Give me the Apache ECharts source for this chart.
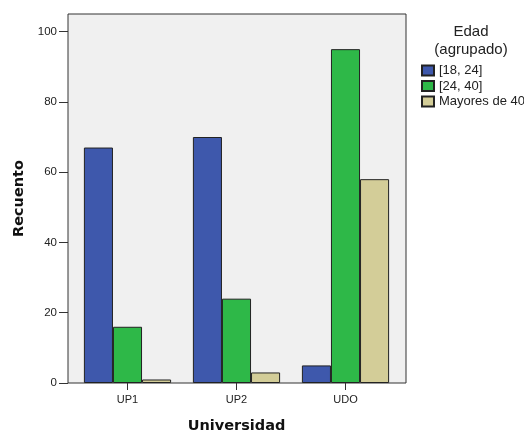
<!DOCTYPE html>
<html><head><meta charset="utf-8">
<script src="https://cdn.jsdelivr.net/npm/echarts@6/dist/echarts.min.js"></script>
<style>html,body{margin:0;padding:0;background:#fff}#c{width:524px;height:433px}</style>
</head><body><div id="c"></div>
<script>
const categories = ['UP1', 'UP2', 'UDO'];
const seriesNames = ['[18, 24]', '[24, 40]', 'Mayores de 40'];
const age18to24 = [67, 70, 5];
const age24to40 = [16, 24, 95];
const ageOver40 = [1, 3, 58];
const yTicks = [0, 20, 40, 60, 80, 100];
const colors = ['#3E58AC', '#2EB848', '#D3CD98'];

const font = 'Liberation Sans, Arial, sans-serif';
const boldFont = 'DejaVu Sans, sans-serif';
const chart = echarts.init(document.getElementById('c'));
const data = [age18to24, age24to40, ageOver40];
chart.setOption({
  animation: false,
  textStyle: { fontFamily: font },
  title: {
    text: 'Edad\n(agrupado)', left: 471, top: 23, textAlign: 'center', padding: 0,
    textStyle: { fontFamily: font, fontSize: 15, fontWeight: 'normal', color: '#222', lineHeight: 18 }
  },
  legend: {
    orient: 'vertical', left: 421, top: 64, padding: 0, itemWidth: 12, itemHeight: 10, itemGap: 2.5,
    icon: 'rect', data: seriesNames,
    textStyle: { fontFamily: font, fontSize: 13, color: '#222', lineHeight: 13 }
  },
  grid: [
    { left: 73, right: 124, top: 14, bottom: 50, outerBoundsMode: 'none' },
    { left: 68, right: 118, top: 14, bottom: 50, outerBoundsMode: 'none', show: true, backgroundColor: '#F0F0F0', borderColor: '#333', borderWidth: 1, z: 0 }
  ],
  xAxis: [
    {
      type: 'category', gridIndex: 0, data: categories,
      axisLine: { show: false },
      axisTick: { show: true, alignWithLabel: true, length: 7, lineStyle: { color: '#333' } },
      axisLabel: { fontFamily: font, fontSize: 11, color: '#222', margin: 11 },
      name: 'Universidad', nameLocation: 'middle', nameGap: 36,
      nameTextStyle: { fontFamily: boldFont, fontSize: 14.5, fontWeight: 'bold', color: '#111' }
    },
    { type: 'category', gridIndex: 1, show: false, data: categories }
  ],
  yAxis: [
    {
      type: 'value', gridIndex: 0, min: 0, max: 105, offset: 5,
      axisLine: { show: false },
      splitLine: { show: false },
      axisTick: { show: true, length: 9, customValues: yTicks, lineStyle: { color: '#333' } },
      axisLabel: { fontFamily: font, fontSize: 11.5, color: '#222', margin: 11, customValues: yTicks },
      name: 'Recuento', nameLocation: 'middle', nameGap: 40.5,
      nameTextStyle: { fontFamily: boldFont, fontSize: 14.5, fontWeight: 'bold', color: '#111' }
    },
    { type: 'value', gridIndex: 1, show: false, min: 0, max: 105 }
  ],
  series: seriesNames.map((n, i) => ({
    name: n, type: 'bar', xAxisIndex: 0, yAxisIndex: 0, data: data[i],
    barGap: 0, barCategoryGap: '20%', z: 3,
    itemStyle: { color: colors[i], borderColor: '#222', borderWidth: 1 }
  }))
});
</script></body></html>
